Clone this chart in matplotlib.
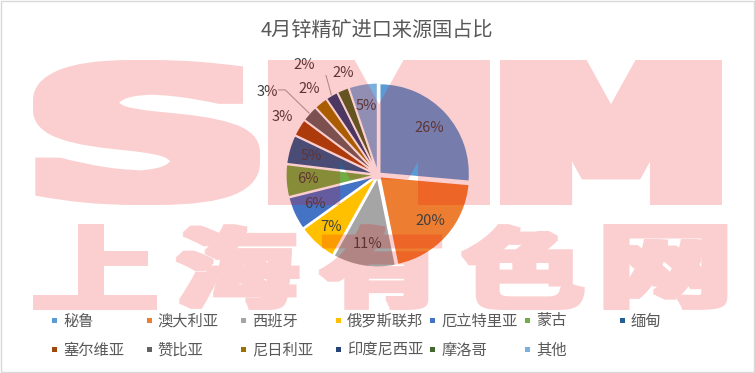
import numpy as np
import matplotlib
matplotlib.use('Agg')
import matplotlib.pyplot as plt
from matplotlib.textpath import TextPath
from matplotlib.font_manager import FontProperties
from matplotlib.patches import PathPatch, Rectangle
from matplotlib.transforms import Affine2D
from matplotlib.lines import Line2D

# ---------------- data ----------------
title = '4月锌精矿进口来源国占比'
categories = ['秘鲁', '澳大利亚', '西班牙', '俄罗斯联邦', '厄立特里亚', '蒙古', '缅甸',
              '塞尔维亚', '赞比亚', '尼日利亚', '印度尼西亚', '摩洛哥', '其他']
shares = [26.4, 20.4, 11.3, 7.0, 6.0, 5.8, 5.2, 3.1, 2.9, 2.4, 2.2, 2.1, 5.2]
colors = ['#5B9BD5', '#ED7D31', '#A5A5A5', '#FFC000', '#4472C4', '#70AD47', '#255E91',
          '#9E480E', '#636363', '#997300', '#264478', '#43682B', '#7CAFDD']
watermark_top = 'SMM'
watermark_bottom = '上海有色网'

# ---------------- figure ----------------
W, H = 755, 373
plt.rcParams['font.family'] = ['Noto Sans CJK SC', 'DejaVu Sans']
fig = plt.figure(figsize=(W / 100, H / 100), dpi=100)
fig.patch.set_facecolor('white')

# border
fig.add_artist(Rectangle((1 / W, 1.5 / H), (W - 2.5) / W, (H - 2.5) / H, transform=fig.transFigure,
                         fill=False, edgecolor='#D9D9D9', linewidth=1.0, zorder=1))

# title
fig.text(377 / W, 1 - 30 / H, title, ha='center', va='center', fontsize=14.5, color='#595959')

# pie axes: centre at (378,175) px, radius 1 unit = 90 px
cx, cy, half = 378, 175, 100
unit = 90.0
ax = fig.add_axes([(cx - half) / W, (H - cy - half) / H, 2 * half / W, 2 * half / H])
wedges, texts, autotexts = ax.pie(
    shares, colors=colors, startangle=90, counterclock=False,
    explode=[0.025] * len(shares),
    wedgeprops=dict(edgecolor='white', linewidth=1.2),
    autopct=lambda p: f'{p:.0f}%', pctdistance=0.75,
    textprops=dict(fontsize=10.5, color='#404040'))
lim = half / unit
ax.set_xlim(-lim, lim)
ax.set_ylim(-lim, lim)
ax.axis('off')

# outside labels: index -> (radial distance, angle offset in degrees)
outside = {7: (1.24, 0.0), 8: (1.54, 5.0), 9: (1.22, 0.0), 10: (1.47, 3.4), 11: (1.20, -3.5)}
leaders = [8, 10]
for i, (dist, off) in outside.items():
    w = wedges[i]
    mid = np.deg2rad((w.theta1 + w.theta2) / 2 + off)
    lx, ly = dist * np.cos(mid), dist * np.sin(mid)
    autotexts[i].set_position((lx, ly))
    autotexts[i].set_ha('center')
    autotexts[i].set_va('center')
    if i in leaders:
        m0 = np.deg2rad((w.theta1 + w.theta2) / 2)
        ex, ey = 1.03 * np.cos(m0), 1.03 * np.sin(m0)
        sx = lx + 0.12
        ax.add_line(Line2D([sx, sx + 0.08, ex], [ly + 0.02, ly + 0.02, ey],
                           color='#A6A6A6', linewidth=0.75))

# legend (row-major, 7 columns)
for i, (name, col) in enumerate(zip(categories, colors)):
    r, c = divmod(i, 7)
    mx = 52 + 94.6 * c
    my = 320.5 + 29 * r
    fig.add_artist(Rectangle((mx / W, (H - my - 2.5) / H), 5 / W, 5 / H,
                             transform=fig.transFigure, facecolor=col, edgecolor='none'))
    fig.text((mx + 11) / W, 1 - (my + 0.5) / H, name, ha='left', va='center',
             fontsize=11, color='#595959')


# ---------------- watermark (semi-transparent, on top) ----------------
WM_RGB = (239 / 255, 0.0, 0.0)
WM_ALPHA = 0.19


def make_filter(dx, dy):
    def filt(img, dpi):
        a = img[..., 3]
        h, w = a.shape
        A = np.zeros((h + 2 * dy, w + 2 * dx))
        A[dy:dy + h, dx:dx + w] = a
        B = A.copy()
        for s in range(1, dx + 1):
            B[:, s:] = np.maximum(B[:, s:], A[:, :-s])
            B[:, :-s] = np.maximum(B[:, :-s], A[:, s:])
        C = B.copy()
        for s in range(1, dy + 1):
            C[s:, :] = np.maximum(C[s:, :], B[:-s, :])
            C[:-s, :] = np.maximum(C[:-s, :], B[s:, :])
        out = np.zeros(C.shape + (4,))
        out[..., 0], out[..., 1], out[..., 2] = WM_RGB
        out[..., 3] = C * WM_ALPHA
        return out, -dx, -dy
    return filt


def add_glyph(ch, prop, box, dx, dy):
    tp = TextPath((0, 0), ch, size=100, prop=prop)
    ext = tp.get_extents()
    x0, y0, x1, y1 = box
    x0, x1, y0, y1 = x0 + dx, x1 - dx, y0 + dy, y1 - dy
    fx0, fx1 = x0 / W, x1 / W
    fy0, fy1 = (H - y1) / H, (H - y0) / H
    tr = (Affine2D().translate(-ext.x0, -ext.y0)
          .scale((fx1 - fx0) / ext.width, (fy1 - fy0) / ext.height)
          .translate(fx0, fy0))
    patch = PathPatch(tr.transform_path(tp), transform=fig.transFigure,
                      facecolor='#EF0000', edgecolor='none', zorder=20)
    patch.set_agg_filter(make_filter(dx, dy))
    fig.add_artist(patch)


latin = FontProperties(family='DejaVu Sans', weight='bold')
cjk = FontProperties(family='Noto Sans CJK SC', weight='bold')
top_boxes = [(33, 60, 260, 205), (268, 60, 490, 205), (500, 60, 722, 205)]
top_dil = [(12, 5), (15, 6), (15, 6)]
for ch, box, (ddx, ddy) in zip(watermark_top, top_boxes, top_dil):
    add_glyph(ch, latin, box, ddx, ddy)
for k, ch in enumerate(watermark_bottom):
    x0 = 33 + 142.6 * k
    add_glyph(ch, cjk, (x0, 224, x0 + 124, 310), 5, 2)

fig.savefig('out.png', dpi=100, facecolor='white')
